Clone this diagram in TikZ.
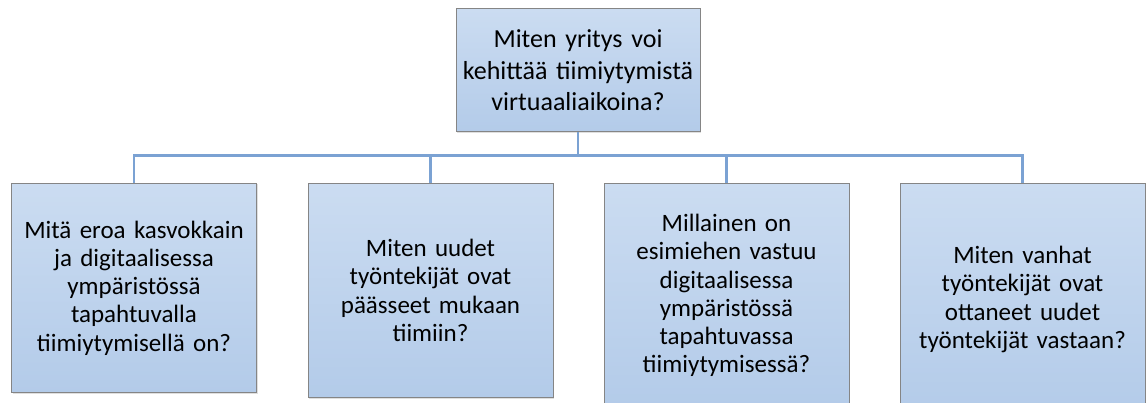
\documentclass[tikz,border=0pt]{standalone}
\usepackage{fontspec}
\setmainfont{Carlito}
\usepackage{xcolor}
\usepackage{tikz}
\usetikzlibrary{positioning,shadows}
\definecolor{qtop}{HTML}{CBDCF1}
\definecolor{qbottom}{HTML}{B3CBE9}
\definecolor{qedge}{HTML}{858585}
\definecolor{qlink}{HTML}{7BA2D3}

\begin{document}
\begin{tikzpicture}[x=1pt,y=-1pt]

\tikzset{
mainq/.style={
    draw=qedge,
    line width=1pt,
    top color=qtop,
    bottom color=qbottom,
    drop shadow={shadow xshift=1pt,shadow yshift=-1pt,opacity=0.25},
    minimum width=244pt,
    minimum height=123pt,
    text width=232pt,
    inner xsep=6pt,
    align=center,
    font=\fontsize{26}{31.5}\selectfont
},
subq/.style={
    draw=qedge,
    line width=1pt,
    top color=qtop,
    bottom color=qbottom,
    drop shadow={shadow xshift=1pt,shadow yshift=-1pt,opacity=0.25},
    minimum width=245pt,
    text width=235pt,
    inner xsep=5pt,
    anchor=north,
    align=center,
    font=\fontsize{25}{28.3}\selectfont
},
link/.style={draw=qlink,line width=2.6pt}
}

\useasboundingbox (0,0) rectangle (1147,403);

\node[mainq] (main) at (578,70.5) {Miten yritys voi\\kehittää tiimiytymistä\\virtuaaliaikoina?};

\node[subq, minimum height=209pt] (diff) at (134,183) {Mitä eroa kasvokkain\\ja digitaalisessa\\ympäristössä\\tapahtuvalla\\tiimiytymisellä on?};
\node[subq, minimum height=214pt] (newcomers) at (430.5,183) {Miten uudet\\työntekijät ovat\\päässeet mukaan\\tiimiin?};
\node[subq, minimum height=224pt] (manager) at (726.5,183) {Millainen on\\esimiehen vastuu\\digitaalisessa\\ympäristössä\\tapahtuvassa\\tiimiytymisessä?};
\node[subq, minimum height=232pt] (seniors) at (1022.5,183) {Miten vanhat\\työntekijät ovat\\ottaneet uudet\\työntekijät vastaan?};

\draw[link] (main.south) -- ++(0,23) -| (diff.north);
\draw[link] (main.south) -- ++(0,23) -| (newcomers.north);
\draw[link] (main.south) -- ++(0,23) -| (manager.north);
\draw[link] (main.south) -- ++(0,23) -| (seniors.north);

\end{tikzpicture}
\end{document}
